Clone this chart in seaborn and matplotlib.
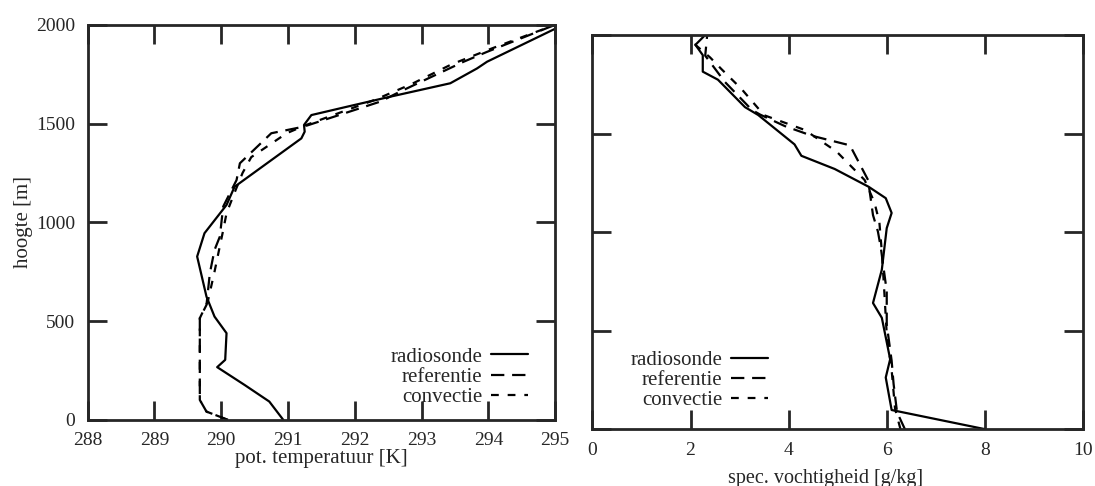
# Profielen: potentiele temperatuur en specifieke vochtigheid
import numpy as np
import pandas as pd
import matplotlib
matplotlib.use("Agg")
import matplotlib.pyplot as plt
import seaborn as sns

# ---------------- data (afgelezen) ----------------
# linker paneel: pot. temperatuur [K] tegen hoogte [m]
z_radio_T = [0, 93, 177, 267, 304, 439, 523, 624, 827, 945, 1088, 1180, 1425, 1459, 1493, 1543, 1585, 1636, 1704, 1779, 1813, 1980]
T_radio = [290.93, 290.72, 290.35, 289.94, 290.06, 290.08, 289.90, 289.78, 289.64, 289.75, 290.08, 290.20, 291.20, 291.25, 291.24, 291.35, 291.88, 292.53, 293.43, 293.83, 293.98, 295.0]

z_ref_T = [0, 20, 42, 101, 515, 582, 742, 860, 928, 1080, 1214, 1299, 1451, 1484, 1611, 1662, 1813, 1863, 2000]
T_ref = [290.10, 289.95, 289.78, 289.68, 289.68, 289.78, 289.83, 289.90, 289.98, 290.03, 290.23, 290.28, 290.75, 291.23, 292.38, 292.68, 293.63, 293.98, 295.0]

z_conv_T = [0, 20, 42, 101, 515, 600, 750, 880, 960, 1046, 1150, 1250, 1330, 1451, 1490, 1620, 1700, 1800, 1880, 2000]
T_conv = [290.10, 289.95, 289.78, 289.68, 289.68, 289.80, 289.90, 289.98, 290.03, 290.08, 290.20, 290.32, 290.45, 290.98, 291.25, 292.30, 292.85, 293.45, 294.05, 295.0]

# rechter paneel: spec. vochtigheid [g/kg] tegen hoogte [m]
z_radio_q = [0, 97, 262, 355, 565, 640, 809, 1020, 1097, 1172, 1230, 1320, 1387, 1445, 1594, 1634, 1773, 1814, 1898, 1950, 2000]
q_radio = [8.0, 6.1, 5.98, 6.07, 5.9, 5.72, 5.9, 6.0, 6.1, 5.98, 5.63, 4.94, 4.26, 4.12, 3.38, 3.11, 2.56, 2.25, 2.25, 2.1, 2.3]

z_ref_q = [0, 86, 229, 347, 532, 700, 920, 1003, 1086, 1264, 1440, 1489, 1538, 1596, 1620, 1762, 1895, 2000]
q_ref = [6.37, 6.21, 6.14, 6.10, 6.0, 6.0, 5.88, 5.82, 5.72, 5.62, 5.25, 4.47, 3.92, 3.42, 3.25, 2.70, 2.30, 2.34]

z_conv_q = [0, 103, 300, 482, 700, 900, 1050, 1150, 1264, 1408, 1518, 1593, 1726, 1827, 1886, 1950, 2000]
q_conv = [6.28, 6.17, 6.1, 6.0, 5.95, 5.9, 5.85, 5.75, 5.55, 4.98, 4.33, 3.5, 3.04, 2.63, 2.40, 2.1, 2.2]

labels = ['radiosonde', 'referentie', 'convectie']
T_ticks = [288, 289, 290, 291, 292, 293, 294, 295]
q_ticks = [0, 2, 4, 6, 8, 10]
z_ticks = [0, 500, 1000, 1500, 2000]

# ---------------- opmaak ----------------
sns.set_style("ticks")
plt.rcParams['font.family'] = ['Liberation Serif', 'DejaVu Serif']

styles = ['-', (0, (6, 3.5)), (0, (3.5, 4))]

fig = plt.figure(figsize=(10.95, 4.86), dpi=100)
ax1 = fig.add_axes([0.080, 0.136, 0.427, 0.813])
ax2 = fig.add_axes([0.541, 0.117, 0.448, 0.811])


def draw(ax, series):
    for (x, z), ls, lab in zip(series, styles, labels):
        d = pd.DataFrame({'x': x, 'z': z})
        sns.lineplot(data=d, x='x', y='z', sort=False, estimator=None, color='black',
                     linewidth=1.6, linestyle=ls, label=lab, ax=ax, legend=False)


def style_axes(ax):
    for s in ax.spines.values():
        s.set_linewidth(2)
    ax.tick_params(direction='in', length=14, width=2, top=True, right=True,
                   labelsize=14, pad=9)


draw(ax1, [(T_radio, z_radio_T), (T_ref, z_ref_T), (T_conv, z_conv_T)])
ax1.set_xlim(288, 295)
ax1.set_ylim(0, 2000)
ax1.set_xticks(T_ticks)
ax1.set_yticks(z_ticks)
style_axes(ax1)
ax1.set_xlabel('pot. temperatuur [K]', fontsize=15, labelpad=0)
ax1.set_ylabel('hoogte [m]', fontsize=15, labelpad=2)

draw(ax2, [(q_radio, z_radio_q), (q_ref, z_ref_q), (q_conv, z_conv_q)])
ax2.set_xlim(0, 10)
ax2.set_ylim(0, 2000)
ax2.set_xticks(q_ticks)
ax2.set_yticks(z_ticks)
ax2.set_yticklabels([])
style_axes(ax2)
ax2.set_xlabel('spec. vochtigheid [g/kg]', fontsize=14.5, labelpad=0)
ax2.xaxis.set_label_coords(0.475, -0.1)
ax2.set_ylabel('')

leg_kw = dict(frameon=False, markerfirst=False, handlelength=1.8, fontsize=15,
              labelspacing=0.03, handletextpad=0.4)
h, l = ax1.get_legend_handles_labels()
ax1.legend(h, l, loc='lower right', bbox_to_anchor=(0.983, -0.015), **leg_kw)
h, l = ax2.get_legend_handles_labels()
ax2.legend(h, l, loc='lower left', bbox_to_anchor=(0.04, 0.0), **leg_kw)

fig.savefig('out.png', dpi=100)
